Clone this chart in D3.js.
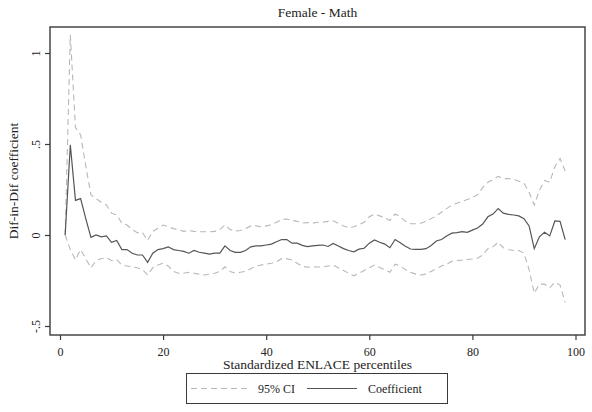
<!doctype html>
<html>
<head>
    <meta charset="utf-8">
    <script src="https://d3js.org/d3.v7.min.js"></script>
    <style>
        body { margin: 0; background: #fff; }
        svg, svg text { font-family: "Liberation Serif", "Times New Roman", "DejaVu Serif", serif !important; }
        svg text { fill: #222; }
    </style>
</head>
<body>
    <script>
        var width = 592;
        var height = 412;

        // percentiles 1..98
        var percentiles = d3.range(1, 99);

        var coefficient = [0, 0.495, 0.19, 0.2, 0.09, -0.013, 0, -0.01, -0.005, -0.04,
            -0.03, -0.08, -0.08, -0.1, -0.11, -0.11, -0.15, -0.1, -0.08, -0.075,
            -0.065, -0.08, -0.085, -0.09, -0.1, -0.085, -0.095, -0.1, -0.105, -0.1,
            -0.1, -0.06, -0.085, -0.095, -0.095, -0.085, -0.065, -0.06, -0.06, -0.055,
            -0.05, -0.037, -0.025, -0.025, -0.045, -0.045, -0.057, -0.064, -0.06, -0.057,
            -0.055, -0.063, -0.046, -0.06, -0.075, -0.085, -0.092, -0.078, -0.073, -0.045,
            -0.027, -0.04, -0.05, -0.07, -0.025, -0.043, -0.062, -0.077, -0.079, -0.079,
            -0.075, -0.058, -0.033, -0.025, -0.005, 0.01, 0.013, 0.018, 0.015, 0.027,
            0.038, 0.06, 0.1, 0.115, 0.145, 0.12, 0.113, 0.11, 0.105, 0.09,
            0.05, -0.075, -0.01, 0.015, -0.005, 0.077, 0.075, -0.025];

        var upperCI = [0, 1.1, 0.59, 0.55, 0.38, 0.22, 0.2, 0.18, 0.165, 0.12,
            0.11, 0.065, 0.055, 0.03, 0.013, 0.013, -0.03, 0.02, 0.037, 0.055,
            0.046, 0.035, 0.03, 0.02, 0.025, 0.02, 0.018, 0.018, 0.018, 0.02,
            0.03, 0.055, 0.03, 0.022, 0.025, 0.035, 0.05, 0.05, 0.045, 0.05,
            0.055, 0.07, 0.085, 0.088, 0.08, 0.075, 0.066, 0.068, 0.065, 0.07,
            0.07, 0.075, 0.078, 0.064, 0.05, 0.04, 0.045, 0.057, 0.07, 0.1,
            0.115, 0.105, 0.095, 0.08, 0.115, 0.1, 0.075, 0.062, 0.062, 0.065,
            0.075, 0.09, 0.105, 0.125, 0.145, 0.165, 0.175, 0.185, 0.195, 0.205,
            0.222, 0.26, 0.29, 0.305, 0.322, 0.31, 0.31, 0.305, 0.295, 0.285,
            0.235, 0.165, 0.245, 0.3, 0.29, 0.375, 0.42, 0.35];

        var lowerCI = [0, -0.08, -0.136, -0.08, -0.13, -0.18, -0.14, -0.13, -0.125, -0.14,
            -0.135, -0.165, -0.17, -0.175, -0.18, -0.19, -0.22, -0.18, -0.165, -0.155,
            -0.17, -0.2, -0.21, -0.21, -0.205, -0.21, -0.215, -0.22, -0.215, -0.21,
            -0.2, -0.175, -0.2, -0.21, -0.205, -0.2, -0.185, -0.17, -0.165, -0.16,
            -0.155, -0.147, -0.13, -0.13, -0.137, -0.155, -0.172, -0.177, -0.175, -0.176,
            -0.176, -0.17, -0.166, -0.18, -0.195, -0.21, -0.224, -0.21, -0.195, -0.18,
            -0.165, -0.178, -0.19, -0.205, -0.16, -0.17, -0.19, -0.205, -0.215, -0.22,
            -0.215, -0.2, -0.185, -0.17, -0.16, -0.145, -0.14, -0.138, -0.135, -0.132,
            -0.128, -0.11, -0.075, -0.065, -0.04, -0.07, -0.08, -0.085, -0.085, -0.1,
            -0.19, -0.32, -0.27, -0.27, -0.29, -0.26, -0.275, -0.37];

        var xTicks = [0, 20, 40, 60, 80, 100];
        var yTicks = [-0.5, 0, 0.5, 1];
        var yTickLabels = ["-.5", "0", ".5", "1"];

        // plot region (frame)
        var frame = {left: 50, right: 585, top: 27, bottom: 335};

        var xScale = d3.scaleLinear().domain([0, 100]).range([60, 575.5]);
        var yScale = d3.scaleLinear().domain([-0.5, 1]).range([326, 53]);

        var svg = d3.select("body")
                    .append("svg")
                    .attr("width", width)
                    .attr("height", height)
                    .attr("font-family", "Liberation Serif, serif");

        svg.append("rect")
           .attr("width", width).attr("height", height)
           .style("fill", "#fff");

        // title
        svg.append("text")
           .attr("x", (frame.left + frame.right) / 2)
           .attr("y", 17)
           .attr("text-anchor", "middle")
           .style("font-size", "13.5px")
           .text("Female - Math");

        // lines
        function makeLine(values) {
            return d3.line()
                     .x(function(d, i){ return xScale(percentiles[i]); })
                     .y(function(d){ return yScale(d); })(values);
        }

        [upperCI, lowerCI].forEach(function(s){
            svg.append("path")
               .attr("d", makeLine(s))
               .style("fill", "none")
               .style("stroke", "#b8b8b8")
               .style("stroke-width", 1.1)
               .style("stroke-dasharray", "6,4");
        });

        svg.append("path")
           .attr("d", makeLine(coefficient))
           .style("fill", "none")
           .style("stroke", "#555")
           .style("stroke-width", 1.2);

        // frame
        svg.append("rect")
           .attr("x", frame.left)
           .attr("y", frame.top)
           .attr("width", frame.right - frame.left)
           .attr("height", frame.bottom - frame.top)
           .style("fill", "none")
           .style("stroke", "#3a3a3a")
           .style("stroke-width", 1.4);

        // x axis
        var xAxis = d3.axisBottom(xScale)
                      .tickValues(xTicks)
                      .tickSize(5)
                      .tickPadding(7);
        var gx = svg.append("g")
                    .attr("transform", "translate(0," + frame.bottom + ")")
                    .call(xAxis);
        gx.attr("font-family", null);
        gx.select(".domain").remove();
        gx.selectAll("line").style("stroke", "#3a3a3a").style("stroke-width", 1.2);
        gx.selectAll("text")
          .style("font-size", "12px")
          .style("fill", "#222");

        // y axis, labels rotated like Stata
        var yAxis = d3.axisLeft(yScale)
                      .tickValues(yTicks)
                      .tickSize(5)
                      .tickFormat(function(d, i){ return yTickLabels[i]; });
        var gy = svg.append("g")
                    .attr("transform", "translate(" + frame.left + ",0)")
                    .call(yAxis);
        gy.attr("font-family", null);
        gy.select(".domain").remove();
        gy.selectAll("line").style("stroke", "#3a3a3a").style("stroke-width", 1.2);
        gy.selectAll("text")
          .attr("x", 0).attr("dy", 0)
          .attr("text-anchor", "middle")
          .attr("transform", "translate(-10,0) rotate(-90)")
          .style("font-size", "12px")
          .style("fill", "#222");

        // axis titles
        svg.append("text")
           .attr("x", (frame.left + frame.right) / 2)
           .attr("y", 369)
           .attr("text-anchor", "middle")
           .style("font-size", "13.5px")
           .text("Standardized ENLACE percentiles");

        svg.append("text")
           .attr("transform", "translate(18," + (frame.top + frame.bottom) / 2 + ") rotate(-90)")
           .attr("text-anchor", "middle")
           .style("font-size", "13.5px")
           .text("Dif-in-Dif coefficient");

        // legend
        var legend = svg.append("g");
        legend.append("rect")
              .attr("x", 186.5).attr("y", 373.5)
              .attr("width", 261).attr("height", 30)
              .style("fill", "#fff")
              .style("stroke", "#3a3a3a")
              .style("stroke-width", 1);
        legend.append("line")
              .attr("x1", 191).attr("x2", 251)
              .attr("y1", 388.5).attr("y2", 388.5)
              .style("stroke", "#b8b8b8")
              .style("stroke-width", 1.1)
              .style("stroke-dasharray", "6,4");
        legend.append("text")
              .attr("x", 258).attr("y", 393)
              .style("font-size", "12px")
              .text("95% CI");
        legend.append("line")
              .attr("x1", 307).attr("x2", 357)
              .attr("y1", 388.5).attr("y2", 388.5)
              .style("stroke", "#555")
              .style("stroke-width", 1.1);
        legend.append("text")
              .attr("x", 368).attr("y", 393)
              .style("font-size", "12px")
              .text("Coefficient");
    </script>
</body>
</html>
